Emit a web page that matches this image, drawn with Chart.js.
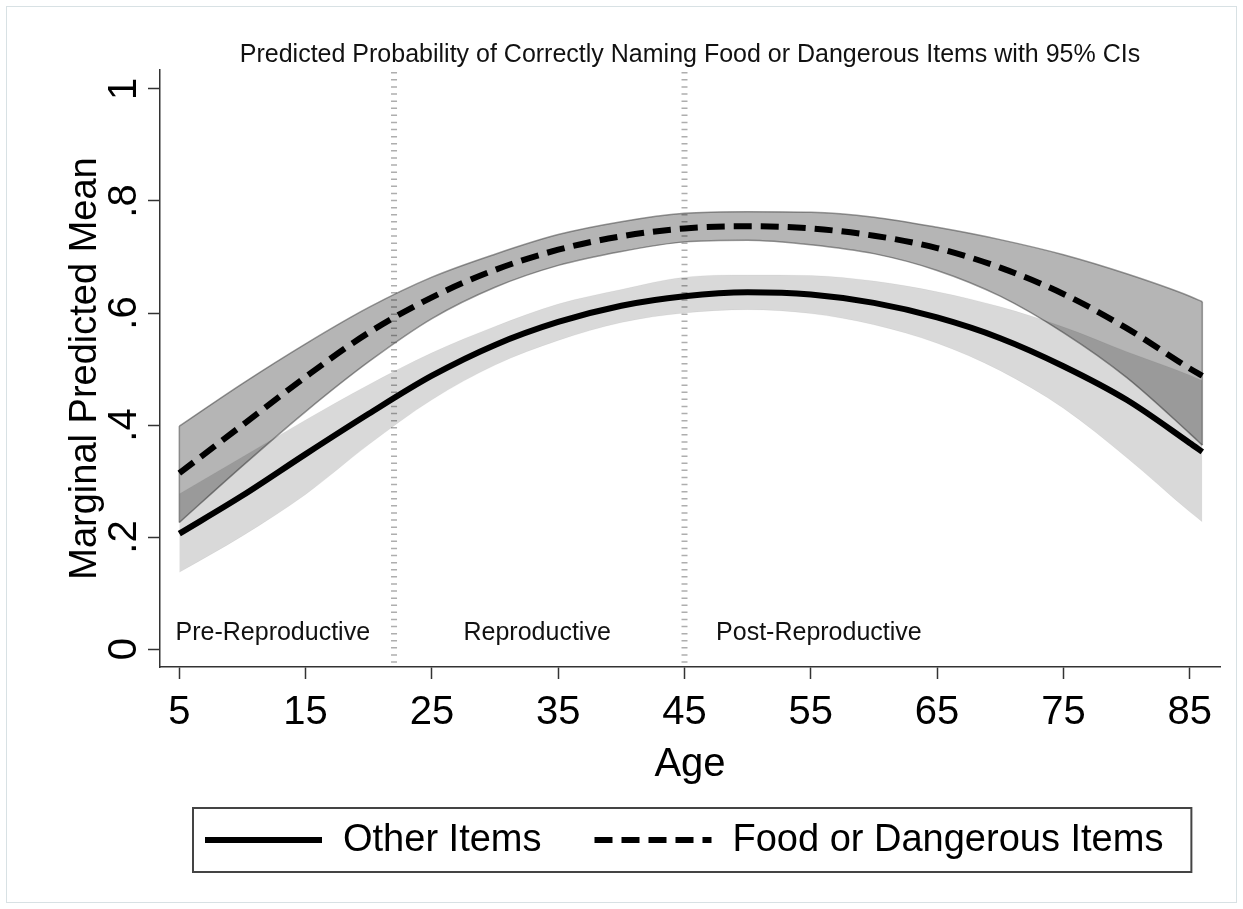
<!DOCTYPE html>
<html>
<head>
<meta charset="utf-8">
<script src="https://cdn.jsdelivr.net/npm/chart.js@4.4.1/dist/chart.umd.min.js"></script>
<style>
  html, body { margin: 0; padding: 0; background: #fff; }
  canvas { display: block; }
</style>
</head>
<body>
<canvas id="chart" width="1243" height="909"></canvas>
<script>
// values (predicted probability by age)
const ages      = [5, 10, 15, 20, 25, 30, 35, 40, 45, 50, 55, 60, 65, 70, 75, 80, 85, 86];
const otherMean = [0.206, 0.274, 0.348, 0.420, 0.488, 0.543, 0.584, 0.613, 0.630, 0.637, 0.633, 0.618, 0.592, 0.555, 0.505, 0.445, 0.368, 0.352];
const otherLo   = [0.137, 0.202, 0.276, 0.365, 0.445, 0.507, 0.551, 0.583, 0.600, 0.606, 0.599, 0.579, 0.546, 0.497, 0.430, 0.342, 0.245, 0.227];
const otherHi   = [0.277, 0.343, 0.409, 0.472, 0.529, 0.576, 0.616, 0.642, 0.664, 0.668, 0.667, 0.657, 0.638, 0.611, 0.575, 0.531, 0.489, 0.479];
const foodMean  = [0.314, 0.400, 0.486, 0.565, 0.628, 0.677, 0.713, 0.737, 0.751, 0.755, 0.751, 0.738, 0.716, 0.681, 0.634, 0.573, 0.501, 0.488];
const foodLo    = [0.226, 0.327, 0.424, 0.513, 0.590, 0.646, 0.685, 0.710, 0.727, 0.730, 0.722, 0.706, 0.676, 0.630, 0.565, 0.485, 0.385, 0.364];
const foodHi    = [0.398, 0.474, 0.545, 0.610, 0.664, 0.705, 0.740, 0.763, 0.778, 0.781, 0.780, 0.771, 0.753, 0.731, 0.704, 0.670, 0.630, 0.620];

const xTicks = [5, 15, 25, 35, 45, 55, 65, 75, 85];
const yTicks = [0, 0.2, 0.4, 0.6, 0.8, 1];
const yTickLabels = ['0', '.2', '.4', '.6', '.8', '1'];

// life phases: cut points and their labels
const phaseCuts = [22, 45];
const phaseNames = ['Pre-Reproductive', 'Reproductive', 'Post-Reproductive'];
const phaseLabelAge = [4.7, 27.5, 47.5];

const FONT = "'Liberation Sans', Arial, Helvetica, sans-serif";

function pts(ys) {
    return ages.map((a, i) => ({ x: a, y: ys[i] }));
}
function cap(lo, hi, i) {
    return [{ x: ages[i], y: lo[i] }, { x: ages[i], y: hi[i] }];
}

const darkFill = 'rgba(0,0,0,0.29)';
const darkEdge = 'rgba(70,70,70,0.55)';
const lightFill = 'rgba(0,0,0,0.15)';
const last = ages.length - 1;

// ---- plugins ----
const pageFrame = {
    id: 'pageFrame',
    beforeDraw(chart) {
        const ctx = chart.ctx;
        ctx.save();
        ctx.fillStyle = '#fff';
        ctx.fillRect(0, 0, chart.width, chart.height);
        ctx.strokeStyle = 'rgba(190,205,210,0.6)';
        ctx.lineWidth = 1;
        ctx.strokeRect(6.5, 6.5, chart.width - 13, chart.height - 13);
        ctx.restore();
    }
};

const phaseLines = {
    id: 'phaseLines',
    beforeDatasetsDraw(chart) {
        const { ctx, chartArea } = chart;
        const x = chart.scales.x;
        ctx.save();
        ctx.strokeStyle = 'rgba(120,120,120,0.6)';
        ctx.lineWidth = 6;
        ctx.setLineDash([1.5, 5.6]);
        phaseCuts.forEach(c => {
            const px = x.getPixelForValue(c);
            ctx.beginPath();
            ctx.moveTo(px, chartArea.top + 2);
            ctx.lineTo(px, chartArea.bottom - 3);
            ctx.stroke();
        });
        ctx.restore();
    },
    afterDatasetsDraw(chart) {
        const ctx = chart.ctx;
        const { x, y } = chart.scales;
        ctx.save();
        ctx.font = `25px ${FONT}`;
        ctx.fillStyle = '#111';
        ctx.textAlign = 'left';
        ctx.textBaseline = 'middle';
        phaseNames.forEach((n, i) => {
            ctx.fillText(n, x.getPixelForValue(phaseLabelAge[i]), y.getPixelForValue(0.028));
        });
        ctx.restore();
    }
};

const legendBox = {
    id: 'legendBox',
    afterDraw(chart) {
        const ctx = chart.ctx;
        const items = chart.data.datasets.filter(d => d.inLegend);
        const sample = 117, gap = 21, sep = 53, yMid = 840;
        const start = 205;
        let x = start;
        ctx.save();
        ctx.font = `38px ${FONT}`;
        items.forEach((ds, i) => {
            ctx.beginPath();
            ctx.setLineDash(ds.borderDash || []);
            ctx.lineWidth = ds.borderWidth;
            ctx.strokeStyle = ds.borderColor;
            ctx.lineCap = 'butt';
            ctx.moveTo(x, yMid);
            ctx.lineTo(x + sample, yMid);
            ctx.stroke();
            x += sample + gap;
            ctx.fillStyle = '#000';
            ctx.textAlign = 'left';
            ctx.textBaseline = 'middle';
            ctx.fillText(ds.label, x, yMid + 1);
            x += ctx.measureText(ds.label).width;
            if (i < items.length - 1) x += sep;
        });
        ctx.setLineDash([]);
        ctx.strokeStyle = '#444';
        ctx.lineWidth = 2;
        ctx.strokeRect(start - 12, 808, x - start + 40, 64);
        ctx.restore();
    }
};

// ---- chart ----
const lineBase = { pointRadius: 0, cubicInterpolationMode: 'monotone', tension: 0.4 };

new Chart(document.getElementById('chart'), {
    type: 'line',
    data: {
        datasets: [
            { ...lineBase, label: 'Food CI upper', data: pts(foodHi), borderColor: darkEdge, borderWidth: 1.5,
              backgroundColor: darkFill, fill: '+1', order: 8 },
            { ...lineBase, label: 'Food CI lower', data: pts(foodLo), borderColor: darkEdge, borderWidth: 1.5,
              fill: false, order: 7 },
            { ...lineBase, label: 'Other CI upper', data: pts(otherHi), borderColor: 'rgba(0,0,0,0.04)', borderWidth: 1,
              backgroundColor: lightFill, fill: '+1', order: 6 },
            { ...lineBase, label: 'Other CI lower', data: pts(otherLo), borderColor: 'rgba(0,0,0,0.04)', borderWidth: 1,
              fill: false, order: 5 },
            { pointRadius: 0, tension: 0, label: 'cap left', data: cap(foodLo, foodHi, 0), borderColor: darkEdge,
              borderWidth: 1.5, fill: false, order: 4 },
            { pointRadius: 0, tension: 0, label: 'cap right', data: cap(foodLo, foodHi, last), borderColor: darkEdge,
              borderWidth: 1.5, fill: false, order: 4 },
            { ...lineBase, label: 'Other Items', data: pts(otherMean), borderColor: '#000', borderWidth: 6,
              borderCapStyle: 'butt', fill: false, order: 2, inLegend: true },
            { ...lineBase, label: 'Food or Dangerous Items', data: pts(foodMean), borderColor: '#000', borderWidth: 6,
              borderDash: [18, 9], borderCapStyle: 'butt', fill: false, order: 1, inLegend: true }
        ]
    },
    options: {
        responsive: false,
        devicePixelRatio: 1,
        animation: false,
        events: [],
        layout: { padding: { left: 0, right: 23, top: 0, bottom: 102 } },
        plugins: {
            legend: { display: false },
            tooltip: { enabled: false },
            title: {
                display: true,
                fullSize: false,
                text: 'Predicted Probability of Correctly Naming Food or Dangerous Items with 95% CIs',
                color: '#111',
                font: { family: FONT, size: 25, weight: 'normal', lineHeight: 1.2 },
                padding: { top: 40, bottom: 0 }
            }
        },
        scales: {
            x: {
                type: 'linear',
                min: 3.47,
                max: 87.4,
                afterBuildTicks: s => { s.ticks = xTicks.map(v => ({ value: v })); },
                afterFit: s => { s.height = 140; },
                ticks: {
                    autoSkip: false, maxRotation: 0, padding: 10, color: '#000',
                    font: { family: FONT, size: 40 },
                    callback: v => String(v)
                },
                grid: { drawOnChartArea: false, drawTicks: true, tickLength: 12, tickWidth: 1.5, tickColor: '#333' },
                border: { display: true, color: '#333', width: 1.5 },
                title: {
                    display: true, text: 'Age', color: '#000',
                    font: { family: FONT, size: 40, lineHeight: 1.2 },
                    padding: { top: 0, bottom: 18 }
                }
            },
            y: {
                type: 'linear',
                min: -0.0321,
                max: 1.0339,
                afterBuildTicks: s => { s.ticks = yTicks.map(v => ({ value: v })); },
                afterFit: s => { s.width = 160; },
                ticks: {
                    autoSkip: false, minRotation: 90, maxRotation: 90, crossAlign: 'center', padding: 6,
                    color: '#000', font: { family: FONT, size: 40 },
                    callback: v => yTickLabels[yTicks.indexOf(v)] ?? ''
                },
                grid: { drawOnChartArea: false, drawTicks: true, tickLength: 12, tickWidth: 1.5, tickColor: '#333' },
                border: { display: true, color: '#333', width: 1.5 },
                title: {
                    display: true, text: 'Marginal Predicted Mean', color: '#000',
                    font: { family: FONT, size: 38, lineHeight: 1.2 },
                    padding: { top: 63, bottom: 0 }
                }
            }
        }
    },
    plugins: [pageFrame, phaseLines, legendBox]
});
</script>
</body>
</html>
